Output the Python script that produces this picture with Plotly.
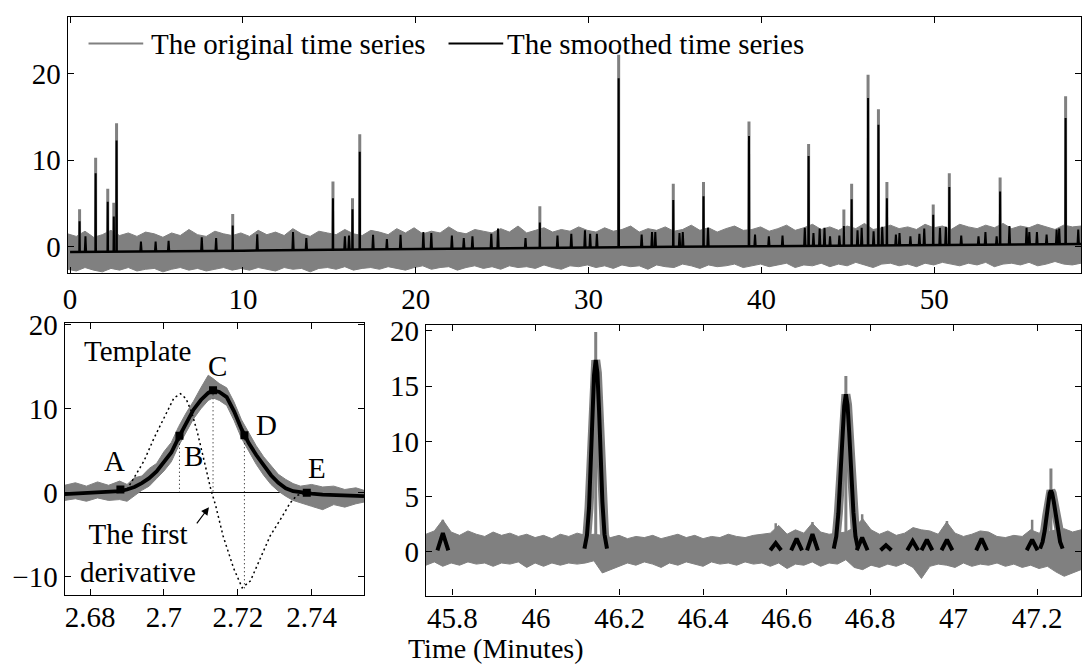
import numpy as np
import plotly.graph_objects as go

W, H = 1082, 672
GRAY = "#808080"
FONT = "Liberation Serif"
FS = 29

# ================= TOP PANEL: whole run (minutes) =================
top_xrange = [-0.14, 58.49]
top_yrange = [-3.03, 26.58]
top_xticks = [0, 10, 20, 30, 40, 50]
top_yticks = [0, 10, 20]

# envelope of the dense noise of the original series (read every ~0.5 min)
noise_upper_top = [
    1.5, 1.2, 1.8, 1.1, 1.4, 1.9, 1.3, 1.6, 1.2, 1.7, 1.5, 1.1, 1.6, 1.3, 2.0, 1.4, 1.2, 1.8, 1.5, 1.3,
    1.6, 1.2, 1.9, 1.4, 1.7, 1.3, 2.1, 1.5, 1.2, 1.8, 1.6, 1.4, 2.0, 1.5, 1.3, 1.9, 1.7, 1.4, 2.1, 1.6,
    2.2, 1.5, 1.8, 1.6, 2.3, 1.7, 1.5, 2.0, 1.8, 1.6, 2.1, 1.7, 2.4, 1.6, 1.9, 2.2, 1.7, 2.0, 1.8, 2.3,
    1.9, 1.7, 2.2, 1.8, 2.0, 2.4, 1.7, 2.1, 1.9, 2.3, 1.8, 2.0, 2.5, 1.9, 2.2, 1.7, 2.1, 2.4, 1.9, 2.0,
    2.3, 1.8, 2.1, 2.5, 1.9, 2.2, 2.6, 2.0, 2.3, 1.9, 2.4, 2.1, 2.7, 2.0, 2.2, 2.5, 2.1, 2.3, 2.0, 2.6,
    2.2, 2.4, 2.0, 2.6, 2.3, 2.1, 2.5, 2.2, 2.7, 2.1, 2.4, 2.2, 2.6, 2.3, 2.0, 2.5, 2.3, 2.4]
noise_lower_top = [
    -2.6, -2.8, -2.4, -2.7, -2.9, -2.5, -2.7, -2.4, -2.8, -2.6, -2.5, -2.9, -2.6, -2.4, -2.7, -2.5, -2.8, -2.6, -2.4, -2.7,
    -2.5, -2.7, -2.4, -2.6, -2.8, -2.4, -2.6, -2.5, -2.9, -2.5, -2.4, -2.6, -2.3, -2.7, -2.5, -2.4, -2.6, -2.3, -2.5, -2.7,
    -2.4, -2.2, -2.6, -2.4, -2.3, -2.7, -2.4, -2.2, -2.5, -2.3, -2.6, -2.2, -2.4, -2.3, -2.5, -2.1, -2.4, -2.6, -2.2, -2.3,
    -2.1, -2.4, -2.2, -2.5, -2.1, -2.3, -2.2, -2.6, -2.1, -2.3, -2.4, -2.0, -2.2, -2.5, -2.1, -2.3, -2.2, -2.0, -2.4, -2.2,
    -2.0, -2.3, -2.1, -1.9, -2.4, -2.1, -2.2, -1.9, -2.3, -2.0, -2.2, -1.8, -2.1, -2.4, -2.0, -1.9, -2.2, -2.0, -2.3, -1.9,
    -2.1, -1.8, -2.0, -2.2, -1.9, -2.1, -1.8, -2.3, -2.0, -1.9, -2.1, -1.8, -2.2, -2.0, -1.7, -2.0, -2.1, -1.9]

# baseline of the smoothed series
baseline_t = [0, 5, 10, 15, 20, 25, 30, 35, 40, 45, 50, 55, 58.5]
baseline_y = [-0.6, -0.55, -0.45, -0.35, -0.25, -0.15, -0.05, 0.0, 0.05, 0.12, 0.2, 0.28, 0.33]

# major peaks: time, original maximum, smoothed maximum
peak_t = [0.55, 1.48, 2.18, 2.53, 2.69, 9.41, 15.21, 16.34, 16.76, 27.18, 31.74, 34.90,
          36.65, 39.28, 42.73, 44.77, 45.22, 46.17, 46.77, 47.26, 49.94, 50.87, 53.81, 57.60]
peak_orig = [4.35, 10.3, 6.7, 5.1, 14.3, 3.8, 7.55, 5.6, 13.0, 4.7, 22.2, 7.3,
             7.5, 14.5, 11.9, 4.3, 7.3, 19.9, 15.9, 7.5, 4.9, 8.5, 8.0, 17.4]
peak_smooth = [2.95, 8.5, 5.2, 3.5, 12.3, 2.45, 5.6, 4.35, 11.0, 2.8, 19.5, 5.4,
               5.85, 12.8, 10.5, 2.4, 5.5, 17.2, 14.1, 5.6, 3.7, 6.9, 6.4, 14.9]

# minor bumps of the smoothed series
minor_t = [0.89, 4.1, 4.95, 5.7, 7.62, 8.45, 10.83, 12.9, 13.67, 15.9, 16.14, 17.53, 18.33,
           19.12, 20.44, 20.9, 22.09, 22.78, 23.28, 24.37, 24.76, 26.35, 28.2, 29.0, 29.79,
           30.09, 30.48, 33.07, 33.67, 33.86, 35.26, 35.45, 36.91, 39.63, 40.43, 41.22, 42.51,
           43.01, 43.37, 43.65, 43.97, 44.51, 45.56, 45.8, 46.49, 46.99, 47.78, 47.99, 48.62,
           49.14, 49.42, 50.33, 50.67, 51.56, 52.56, 52.96, 53.61, 54.35, 55.34, 55.5, 55.94,
           56.5, 57.08, 57.23, 58.33]
minor_h = [1.2, 0.6, 0.6, 0.7, 1.1, 1.0, 1.45, 1.7, 1.0, 1.2, 1.3, 1.4, 0.9,
           1.4, 1.7, 1.6, 1.3, 1.0, 1.2, 1.5, 2.1, 1.0, 1.3, 1.5, 1.9,
           1.5, 1.5, 1.4, 1.7, 1.7, 1.6, 1.7, 2.2, 1.4, 1.2, 1.3, 2.2,
           1.6, 2.1, 2.2, 1.2, 1.3, 1.9, 2.2, 1.8, 2.3, 1.4, 1.6, 1.2,
           1.5, 2.1, 2.2, 2.3, 1.3, 1.2, 1.7, 1.2, 2.4, 2.2, 1.7, 1.7,
           1.4, 2.0, 2.1, 2.0]

# ================= BOTTOM-LEFT: template =================
tpl_xrange = [2.6731, 2.7542]
tpl_yrange = [-12.15, 20.2]
tpl_xticks = [2.68, 2.70, 2.72, 2.74]
tpl_xtext = ["2.68", "2.7", "2.72", "2.74"]
tpl_yticks = [-10, 0, 10, 20]
tpl_ytext = ["\u221210", "0", "10", "20"]

tpl_t = [2.6731, 2.676, 2.679, 2.682, 2.685, 2.688, 2.690, 2.692, 2.694, 2.696, 2.698, 2.700,
         2.702, 2.704, 2.706, 2.708, 2.710, 2.712, 2.7133, 2.715, 2.717, 2.719, 2.721, 2.723,
         2.725, 2.727, 2.729, 2.731, 2.733, 2.735, 2.737, 2.740, 2.743, 2.746, 2.749, 2.752, 2.7542]
tpl_smooth = [-0.15, -0.1, -0.05, 0.0, 0.05, 0.2, 0.4, 0.7, 1.15, 1.75, 2.55, 3.6,
              4.8, 6.6, 8.3, 9.9, 11.05, 11.9, 12.2, 12.0, 11.4, 9.7, 7.6, 5.9,
              4.5, 3.2, 2.1, 1.2, 0.55, 0.2, 0.05, -0.1, -0.2, -0.25, -0.3, -0.35, -0.4]
tpl_upper = [0.9, 1.2, 0.8, 1.3, 0.9, 1.4, 1.0, 1.8, 2.0, 2.9, 3.5, 4.9,
             6.0, 7.9, 9.5, 10.9, 12.5, 14.0, 13.6, 13.0, 12.5, 10.8, 8.7, 7.1,
             5.6, 4.3, 3.2, 2.2, 1.6, 1.1, 0.8, 1.0, 0.7, 0.8, 0.4, 0.6, 0.3]
tpl_lower = [-0.9, -0.7, -1.0, -0.6, -0.9, -0.8, -1.0, -0.3, 0.3, 0.8, 1.7, 2.6,
             3.7, 5.6, 7.2, 8.8, 10.0, 11.0, 11.3, 11.0, 10.4, 8.6, 6.5, 4.9,
             3.4, 2.1, 1.0, 0.2, -0.4, -0.9, -1.2, -1.6, -2.0, -1.4, -1.7, -1.3, -1.1]

deriv_t = [2.690, 2.692, 2.6946, 2.6973, 2.700, 2.7027, 2.7045, 2.706, 2.7075, 2.709, 2.7109,
           2.7127, 2.714, 2.716, 2.7189, 2.7212, 2.7234, 2.7261, 2.7288, 2.7315, 2.7342, 2.736, 2.7387]
deriv_y = [0.4, 1.9, 3.8, 6.5, 8.9, 11.3, 11.8, 11.2, 9.6, 7.3, 3.8,
           0.4, -1.5, -5.1, -9.0, -11.3, -10.5, -7.8, -5.1, -3.2, -1.2, -0.3, 0.0]

key_names = ["A", "B", "C", "D", "E"]
key_t = [2.6882, 2.7042, 2.7133, 2.7218, 2.7387]
key_y = [0.4, 6.8, 12.2, 6.85, 0.0]
key_drop = [None, 0.0, 0.0, -11.45, None]
key_label_t = [2.6866, 2.7081, 2.7144, 2.7279, 2.7414]
key_label_y = [3.8, 4.4, 15.1, 8.1, 3.0]

# ================= BOTTOM-RIGHT: zoom 45.7-47.3 min =================
zm_xrange = [45.7365, 47.305]
zm_yrange = [-3.95, 20.55]
zm_xticks = [45.8, 46.0, 46.2, 46.4, 46.6, 46.8, 47.0, 47.2]
zm_xtext = ["45.8", "46", "46.2", "46.4", "46.6", "46.8", "47", "47.2"]
zm_yticks = [0, 5, 10, 15, 20]

zm_upper = [1.6, 1.9, 2.9, 1.8, 1.5, 1.9, 1.6, 1.4, 1.8, 1.5, 1.7, 1.4, 1.6, 1.3, 1.5, 1.2,
            1.6, 1.4, 1.7, 1.5, 1.6, 1.5, 1.3, 1.5, 1.2, 1.4, 1.3, 1.5, 1.2, 1.4, 1.6, 1.3,
            1.5, 1.2, 1.4, 1.3, 1.6, 1.4, 1.3, 1.5, 1.6, 1.7, 2.4, 1.6, 2.0, 1.7, 2.6, 1.8,
            1.6, 1.7, 1.8, 2.2, 3.0, 2.0, 1.6, 1.9, 1.5, 1.7, 2.2, 2.0, 1.9, 1.6, 2.7, 1.7,
            1.4, 1.6, 1.9, 1.8, 1.4, 1.3, 1.5, 1.4, 2.0, 1.7, 1.8, 2.0, 2.1, 1.8, 2.0]
zm_lower = [-1.2, -0.9, -1.3, -1.0, -1.2, -0.9, -1.1, -1.0, -1.3, -1.0, -1.1, -0.9, -1.4, -1.0,
            -1.3, -1.0, -1.2, -1.0, -1.1, -1.0, -0.8, -1.9, -1.6, -1.3, -1.0, -1.2, -0.9, -1.1,
            -1.4, -1.0, -1.2, -0.9, -1.1, -1.3, -0.9, -1.1, -1.0, -1.2, -0.9, -1.1, -1.0, -1.3,
            -1.0, -1.5, -1.1, -1.2, -0.9, -1.3, -1.0, -1.1, -0.7, -1.4, -1.6, -1.2, -1.4, -1.1,
            -1.3, -1.0, -1.4, -2.4, -1.3, -1.1, -1.2, -1.4, -1.0, -1.3, -1.1, -1.2, -1.0, -1.3,
            -1.1, -1.4, -1.2, -1.5, -1.3, -1.8, -2.2, -1.9, -1.6]

zm_peaks_t = [
    [46.116, 46.122, 46.127, 46.131, 46.135, 46.139, 46.143, 46.147, 46.151, 46.155, 46.159, 46.164, 46.170],
    [46.713, 46.719, 46.724, 46.729, 46.734, 46.738, 46.742, 46.746, 46.750, 46.755, 46.760, 46.765, 46.771],
    [47.207, 47.213, 47.218, 47.223, 47.227, 47.230, 47.233, 47.236, 47.240, 47.245, 47.250, 47.255, 47.261]]
zm_peaks_y = [
    [0.3, 1.5, 4.0, 8.0, 12.5, 16.0, 17.35, 16.2, 12.8, 8.5, 4.5, 1.6, 0.3],
    [0.3, 1.4, 3.5, 6.8, 10.5, 13.2, 14.25, 13.3, 10.8, 7.0, 3.6, 1.4, 0.3],
    [0.3, 0.9, 1.9, 3.3, 4.6, 5.3, 5.55, 5.3, 4.5, 3.2, 1.9, 0.9, 0.3]]
zm_peaks_orig = [19.9, 15.9, 7.55]

zm_bump_t = [45.777, 46.574, 46.624, 46.662, 46.781, 46.838, 46.902, 46.936, 46.984, 47.067, 47.188]
zm_bump_h = [1.7, 0.8, 1.2, 1.6, 1.3, 0.6, 1.0, 1.1, 1.1, 1.2, 1.1]
zm_bump_orig_t = [45.777, 46.574, 46.662, 46.781, 46.984, 47.188]
zm_bump_orig_h = [2.9, 2.6, 2.7, 3.4, 2.8, 2.9]

# =================================================================
fig = go.Figure()


def band(xr, upper, lower, xa, ya):
    xu = np.linspace(xr[0], xr[1], len(upper))
    xl = np.linspace(xr[0], xr[1], len(lower))
    fig.add_trace(go.Scatter(x=list(xu) + list(xl[::-1]), y=list(upper) + list(lower[::-1]),
                             fill="toself", fillcolor=GRAY, mode="lines",
                             line=dict(color=GRAY, width=1), hoverinfo="skip",
                             xaxis=xa, yaxis=ya, showlegend=False))


def spikes(ts, tops, bases, half, color, width, xa, ya):
    xs, ys = [], []
    for t, top, b in zip(ts, tops, bases):
        xs += [t - half, t, t + half, None]
        ys += [b, top, b, None]
    fig.add_trace(go.Scatter(x=xs, y=ys, mode="lines", line=dict(color=color, width=width),
                             hoverinfo="skip", xaxis=xa, yaxis=ya, showlegend=False))


# ---- top panel ----
band(top_xrange, noise_upper_top, noise_lower_top, "x", "y")
spikes(peak_t, peak_orig, [0.0] * len(peak_t), 0.0, GRAY, 3, "x", "y")
fig.add_trace(go.Scatter(x=baseline_t, y=baseline_y, mode="lines",
                         line=dict(color="black", width=2.5), xaxis="x", yaxis="y",
                         showlegend=False, hoverinfo="skip"))
spikes(peak_t, peak_smooth, list(np.interp(peak_t, baseline_t, baseline_y)), 0.02, "black", 2, "x", "y")
spikes(minor_t, minor_h, list(np.interp(minor_t, baseline_t, baseline_y)), 0.04, "black", 2, "x", "y")

# ---- bottom-left: template ----
fig.add_trace(go.Scatter(x=tpl_t + tpl_t[::-1], y=tpl_upper + tpl_lower[::-1], fill="toself",
                         fillcolor=GRAY, mode="lines", line=dict(color=GRAY, width=1),
                         xaxis="x2", yaxis="y2", showlegend=False, hoverinfo="skip"))
fig.add_trace(go.Scatter(x=deriv_t, y=deriv_y, mode="lines",
                         line=dict(color="black", width=1.5, dash="2px,3px"),
                         xaxis="x2", yaxis="y2", showlegend=False, hoverinfo="skip"))
dx, dy = [], []
for t, y, d in zip(key_t, key_y, key_drop):
    if d is not None:
        dx += [t, t, None]
        dy += [y, d, None]
fig.add_trace(go.Scatter(x=dx, y=dy, mode="lines", line=dict(color="black", width=1, dash="1px,3px"),
                         xaxis="x2", yaxis="y2", showlegend=False, hoverinfo="skip"))
fig.add_trace(go.Scatter(x=tpl_t, y=tpl_smooth, mode="lines", line=dict(color="black", width=3.8),
                         xaxis="x2", yaxis="y2", showlegend=False, hoverinfo="skip"))
fig.add_trace(go.Scatter(x=key_t, y=key_y, mode="markers",
                         marker=dict(symbol="square", size=8, color="black"),
                         xaxis="x2", yaxis="y2", showlegend=False, hoverinfo="skip"))

# ---- bottom-right: zoom ----
band(zm_xrange, zm_upper, zm_lower, "x3", "y3")
for xs, ys in zip(zm_peaks_t, zm_peaks_y):
    fig.add_trace(go.Scatter(x=xs, y=ys, mode="lines", line=dict(color=GRAY, width=9),
                             xaxis="x3", yaxis="y3", showlegend=False, hoverinfo="skip"))
apex_t = [xs[int(np.argmax(ys))] for xs, ys in zip(zm_peaks_t, zm_peaks_y)]
spikes(apex_t, zm_peaks_orig, [0.0] * 3, 0.0, GRAY, 3, "x3", "y3")
spikes(zm_bump_orig_t, zm_bump_orig_h, [0.0] * len(zm_bump_orig_t), 0.0, GRAY, 2.5, "x3", "y3")
for xs, ys in zip(zm_peaks_t, zm_peaks_y):
    fig.add_trace(go.Scatter(x=xs, y=ys, mode="lines", line=dict(color="black", width=4),
                             xaxis="x3", yaxis="y3", showlegend=False, hoverinfo="skip"))
spikes(zm_bump_t, zm_bump_h, [0.15] * len(zm_bump_t), 0.013, "black", 4, "x3", "y3")

# ---- axes ----
axis_common = dict(showline=True, linecolor="black", linewidth=1.3, mirror="ticks",
                   ticks="inside", ticklen=6, tickcolor="black", tickwidth=1,
                   showgrid=False, zeroline=False,
                   tickfont=dict(family=FONT, size=FS, color="black"))


def yd(top_px, bot_px):
    return [1 - bot_px / H, 1 - top_px / H]


fig.update_layout(
    width=W, height=H, margin=dict(l=0, r=0, t=0, b=0),
    paper_bgcolor="white", plot_bgcolor="white", showlegend=False,
    font=dict(family=FONT, size=FS, color="black"),
    xaxis=dict(axis_common, domain=[63 / W, 1.0], range=top_xrange, tickvals=top_xticks,
               anchor="y"),
    yaxis=dict(axis_common, domain=yd(3, 264.5), range=top_yrange, tickvals=top_yticks,
               anchor="x"),
    xaxis2=dict(axis_common, domain=[60 / W, 361 / W], range=tpl_xrange, tickvals=tpl_xticks,
                ticktext=tpl_xtext, anchor="y2", ticklabelstandoff=-4),
    yaxis2=dict(axis_common, domain=yd(315.7, 593.3), range=tpl_yrange, tickvals=tpl_yticks,
                ticktext=tpl_ytext, anchor="x2", zeroline=True, zerolinecolor="black",
                zerolinewidth=1),
    xaxis3=dict(axis_common, domain=[423.3 / W, 1.0], range=zm_xrange, tickvals=zm_xticks,
                ticktext=zm_xtext, anchor="y3", ticklabelstandoff=-4),
    yaxis3=dict(axis_common, domain=yd(317.3, 594), range=zm_yrange, tickvals=zm_yticks,
                anchor="x3"),
)

# ---- legend (drawn by hand, as in the original) ----
fig.add_shape(type="line", xref="paper", yref="paper", x0=84 / W, x1=139 / W,
              y0=1 - 30 / H, y1=1 - 30 / H, line=dict(color=GRAY, width=2))
fig.add_shape(type="line", xref="paper", yref="paper", x0=446 / W, x1=501 / W,
              y0=1 - 30 / H, y1=1 - 30 / H, line=dict(color="black", width=2))
legend_items = [("The original time series", 145), ("The smoothed time series", 503)]
for txt, px in legend_items:
    fig.add_annotation(text=txt, xref="paper", yref="paper", x=px / W, y=1 - 31 / H,
                       xanchor="left", yanchor="middle", showarrow=False,
                       font=dict(family=FONT, size=FS, color="black"))

# ---- annotations in the template panel ----
for name, lt, ly in zip(key_names, key_label_t, key_label_y):
    fig.add_annotation(text=name, x=lt, y=ly, xref="x2", yref="y2", showarrow=False,
                       xanchor="center", yanchor="middle",
                       font=dict(family=FONT, size=FS, color="black"))
fig.add_annotation(text="Template", x=2.6928, y=16.86, xref="x2", yref="y2", showarrow=False,
                   xanchor="center", yanchor="middle", font=dict(family=FONT, size=FS, color="black"))
fig.add_annotation(text="The first<br>derivative", x=2.6931, y=-7.1, xref="x2", yref="y2",
                   showarrow=False, xanchor="center", yanchor="middle",
                   font=dict(family=FONT, size=FS, color="black"))
fig.add_annotation(text="", x=2.7122, y=-1.7, ax=2.7086, ay=-3.8, xref="x2", yref="y2",
                   axref="x2", ayref="y2", showarrow=True, arrowhead=2, arrowsize=1.3,
                   arrowwidth=1.2, arrowcolor="black")

fig.add_annotation(text="Time (Minutes)", xref="paper", yref="paper", x=494 / W, y=1 - 648 / H,
                   xanchor="center", yanchor="middle", showarrow=False,
                   font=dict(family=FONT, size=28, color="black"))

fig.write_html("out.html")
